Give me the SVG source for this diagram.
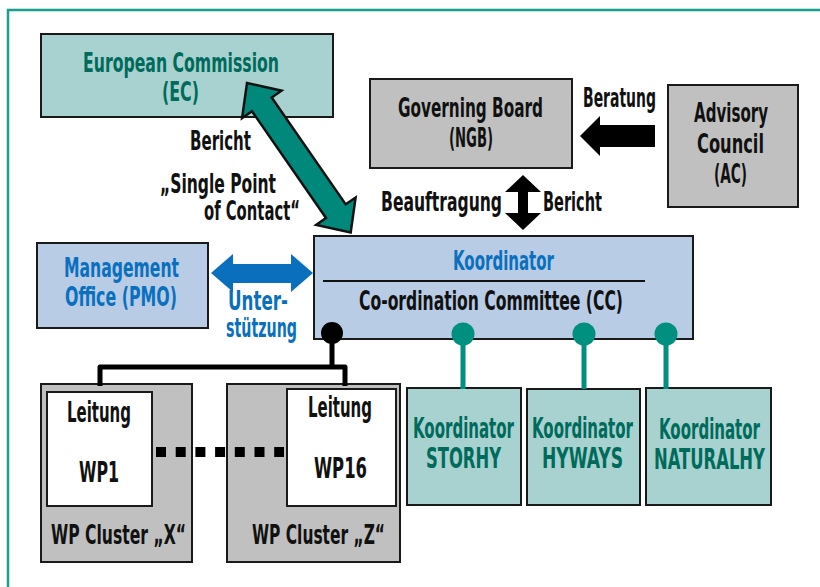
<svg xmlns="http://www.w3.org/2000/svg" width="820" height="587" viewBox="0 0 820 587">
<style>
text{font-family:'Liberation Sans Narrow','DejaVu Sans Condensed','Liberation Sans',sans-serif;font-weight:bold;font-size:26px}
.k{fill:#111}
.tl{fill:#006b5c}
.bl{fill:#0a70be}
.box{stroke:#1a1a1a;stroke-width:2}
.teal{fill:#a8d2cf}
.gray{fill:#c0c0c0}
.lb{fill:#b8cce6}
.wh{fill:#ffffff}
.big{font-size:28px}
</style>
<rect width="820" height="587" fill="#ffffff"/>
<path d="M8,587 V10 H820" fill="none" stroke="#17a090" stroke-width="2.5"/>

<g id="ec">
  <rect x="41" y="34" width="292" height="83" class="box teal"/>
  <text x="83" y="72" class="tl" textLength="196" lengthAdjust="spacingAndGlyphs">European Commission</text>
  <text x="162" y="101" class="tl" textLength="37" lengthAdjust="spacingAndGlyphs">(EC)</text>
</g>
<g id="ec-label">
  <text x="190" y="150" class="k" textLength="61" lengthAdjust="spacingAndGlyphs">Bericht</text>
  <text x="160" y="193" class="k" textLength="116" lengthAdjust="spacingAndGlyphs">„Single Point</text>
  <text x="204" y="220" class="k" textLength="96" lengthAdjust="spacingAndGlyphs">of Contact“</text>
</g>

<g id="ngb">
  <rect x="370" y="79" width="202" height="89" class="box gray"/>
  <text x="398" y="117" class="k" textLength="145" lengthAdjust="spacingAndGlyphs">Governing Board</text>
  <text x="449" y="147" class="k" textLength="44" lengthAdjust="spacingAndGlyphs">(NGB)</text>
</g>

<g id="ac">
  <rect x="668" y="85" width="130" height="122" class="box gray"/>
  <text x="694" y="122" class="k" textLength="74" lengthAdjust="spacingAndGlyphs">Advisory</text>
  <text x="697" y="153" class="k" textLength="67" lengthAdjust="spacingAndGlyphs">Council</text>
  <text x="714" y="183" class="k" textLength="33" lengthAdjust="spacingAndGlyphs">(AC)</text>
</g>

<g id="arrow-labels">
  <text x="583" y="107" class="k" textLength="73" lengthAdjust="spacingAndGlyphs">Beratung</text>
  <text x="381" y="211" class="k" textLength="121" lengthAdjust="spacingAndGlyphs">Beauftragung</text>
  <text x="543" y="211" class="k" textLength="59" lengthAdjust="spacingAndGlyphs">Bericht</text>
  <text x="228" y="310" class="bl" textLength="60" lengthAdjust="spacingAndGlyphs">Unter-</text>
  <text x="226" y="337" class="bl" textLength="71" lengthAdjust="spacingAndGlyphs">stützung</text>
</g>

<g id="pmo">
  <rect x="37" y="243" width="171" height="85" class="box lb"/>
  <text x="64" y="277" class="bl" textLength="115" lengthAdjust="spacingAndGlyphs">Management</text>
  <text x="65" y="306" class="bl" textLength="112" lengthAdjust="spacingAndGlyphs">Office (PMO)</text>
</g>

<g id="koordinator">
  <rect x="314" y="236" width="379" height="103" class="box lb"/>
  <text x="453" y="270" class="bl" textLength="101" lengthAdjust="spacingAndGlyphs">Koordinator</text>
  <line x1="323" y1="281" x2="645" y2="281" stroke="#111" stroke-width="2"/>
  <text x="359" y="310" class="k" textLength="264" lengthAdjust="spacingAndGlyphs">Co-ordination Committee (CC)</text>
</g>

<g id="cluster-x">
  <rect x="41" y="384" width="151" height="178" class="box gray"/>
  <rect x="47" y="392" width="105" height="114" class="box wh"/>
  <text x="67" y="422" class="k big" textLength="64" lengthAdjust="spacingAndGlyphs">Leitung</text>
  <text x="79" y="482" class="k big" textLength="40" lengthAdjust="spacingAndGlyphs">WP1</text>
  <text x="51" y="544" class="k" textLength="135" lengthAdjust="spacingAndGlyphs">WP Cluster „X“</text>
</g>

<g id="cluster-z">
  <rect x="227" y="384" width="173" height="178" class="box gray"/>
  <rect x="287" y="389" width="109" height="117" class="box wh"/>
  <text x="308" y="417" class="k big" textLength="64" lengthAdjust="spacingAndGlyphs">Leitung</text>
  <text x="314" y="478" class="k big" textLength="53" lengthAdjust="spacingAndGlyphs">WP16</text>
  <text x="252" y="544" class="k" textLength="133" lengthAdjust="spacingAndGlyphs">WP Cluster „Z“</text>
</g>

<g id="storhy">
  <rect x="407" y="388" width="114" height="117" class="box teal"/>
  <text x="413" y="438" class="tl big" textLength="101" lengthAdjust="spacingAndGlyphs">Koordinator</text>
  <text x="426" y="468" class="tl big" textLength="75" lengthAdjust="spacingAndGlyphs">STORHY</text>
</g>

<g id="hyways">
  <rect x="527" y="389" width="113" height="116" class="box teal"/>
  <text x="532" y="438" class="tl big" textLength="101" lengthAdjust="spacingAndGlyphs">Koordinator</text>
  <text x="542" y="468" class="tl big" textLength="81" lengthAdjust="spacingAndGlyphs">HYWAYS</text>
</g>

<g id="naturalhy">
  <rect x="646" y="388" width="125" height="117" class="box teal"/>
  <text x="659" y="439" class="tl big" textLength="101" lengthAdjust="spacingAndGlyphs">Koordinator</text>
  <text x="654" y="469" class="tl big" textLength="111" lengthAdjust="spacingAndGlyphs">NATURALHY</text>
</g>

<g id="connectors">
  <polygon points="0,0 26,-24 26,-12 156,-12 156,-24 182,0 156,24 156,12 26,12 26,24" transform="translate(247,83) rotate(55.27)" fill="#00897b" stroke="#111" stroke-width="2.5" stroke-linejoin="miter"/>
  <polygon points="580,136 600,116 600,125 655,125 655,147 600,147 600,156" fill="#000"/>
  <polygon points="523,175 541,192 528,192 528,213 541,213 523,230 505,213 518,213 518,192 505,192" fill="#000"/>
  <polygon points="211,273 233,254 233,264 291,264 291,283 233,283 233,292" fill="#0a70be"/>
  <polygon points="313,273 291,254 291,292" fill="#0a70be"/>
  <path d="M332,333 V367 M100,386 V367 H345 V386" fill="none" stroke="#000" stroke-width="5" stroke-linejoin="round"/>
  <circle cx="332" cy="333" r="11" fill="#000"/>
  <path d="M463,333 V389 M584,333 V389 M666,333 V389" stroke="#00907f" stroke-width="5"/>
  <circle cx="463" cy="334" r="11.5" fill="#00907f"/>
  <circle cx="584" cy="334" r="11.5" fill="#00907f"/>
  <circle cx="666" cy="334" r="11.5" fill="#00907f"/>
  <line x1="156" y1="452" x2="284" y2="452" stroke="#000" stroke-width="10" stroke-dasharray="10 9.7"/>
</g>
</svg>
